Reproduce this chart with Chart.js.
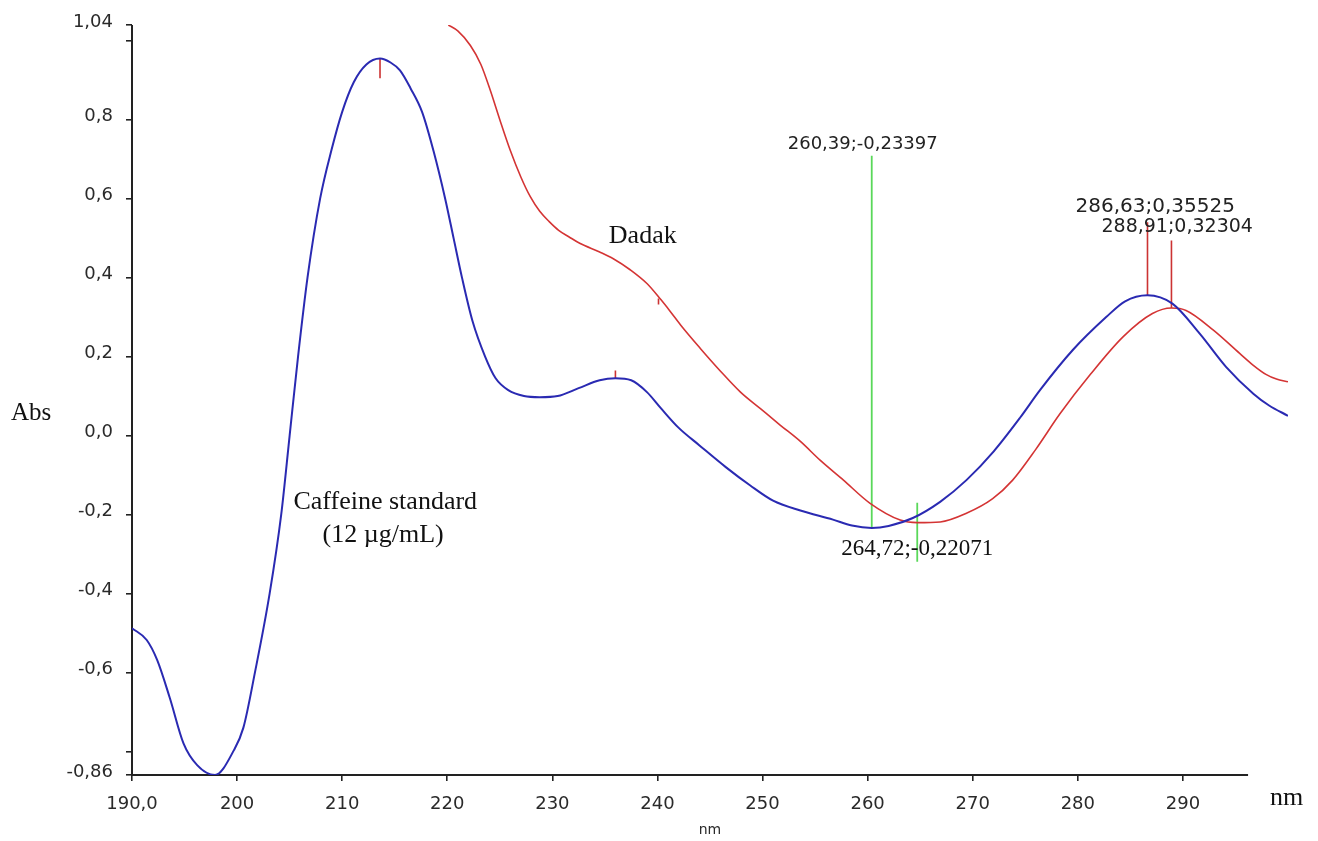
<!DOCTYPE html>
<html>
<head>
<meta charset="utf-8">
<title>UV spectrum - Caffeine standard / Dadak</title>
<script src="https://cdn.jsdelivr.net/npm/chart.js@4.4.0/dist/chart.umd.min.js"></script>
<style>
  html, body { margin: 0; padding: 0; background: #fff; }
  canvas { display: block; }
</style>
</head>
<body>
<canvas id="spectrum" width="1318" height="841"></canvas>
<script>
// Caffeine standard (12 ug/mL), wavelength in nm and absorbance
const caffeineNm = [190, 191.4, 192.4, 193.6, 194.9, 196.2, 197.9, 199.7, 200.6, 201.7, 203.1, 204.2, 205.0, 205.8, 206.7,
  207.9, 209.0, 210.0, 211.1, 212.3, 213.6, 214.6, 215.5, 216.5, 217.6, 218.7, 219.8, 220.6, 221.4, 222.4, 223.6, 224.6,
  225.8, 227.3, 228.8, 230.5, 232.5, 234.5, 236.0, 237.5, 239.0, 240.3, 242.0, 244.0, 246.5, 248.8, 251.0, 253.6, 256.7,
  258.5, 260.39, 262.0, 264.3, 266.9, 269.4, 272.0, 274.5, 276.4, 279.5, 282.7, 284.5, 286.63, 289.0, 291.6, 294.1, 296.7,
  298.2, 300];
const caffeineAbs = [-0.488, -0.518, -0.569, -0.665, -0.78, -0.835, -0.86, -0.797, -0.74, -0.6, -0.4, -0.2, 0.0, 0.2, 0.4,
  0.6, 0.725, 0.82, 0.895, 0.94, 0.955, 0.945, 0.925, 0.88, 0.82, 0.72, 0.6, 0.5, 0.4, 0.29, 0.2, 0.145,
  0.115, 0.1, 0.097, 0.10, 0.12, 0.14, 0.145, 0.14, 0.11, 0.07, 0.02, -0.025, -0.08, -0.126, -0.165, -0.19, -0.213,
  -0.228, -0.23397, -0.229, -0.209, -0.168, -0.113, -0.04, 0.045, 0.115, 0.216, 0.30, 0.34, 0.35525, 0.334, 0.258, 0.174, 0.106,
  0.076, 0.05];

// Dadak sample
const dadakNm = [220.1, 221.0, 222.2, 223.2, 224.1, 225.0, 226.0, 227.0, 227.9, 228.8, 229.7, 230.6, 231.6, 232.6, 234.5,
  235.8, 237.4, 239.0, 240.3, 241.2, 242.2, 244.1, 246.0, 247.9, 249.8, 251.7, 253.6, 255.5, 257.7, 260.2, 263.1, 264.72,
  266.9, 269.4, 271.9, 273.8, 276.0, 278.3, 281.2, 284.3, 287.1, 288.91, 290.3, 292.9, 295.4, 296.7, 297.9, 298.9, 300];
const dadakAbs = [1.04, 1.025, 0.988, 0.94, 0.874, 0.80, 0.722, 0.655, 0.605, 0.568, 0.542, 0.52, 0.503, 0.487, 0.465,
  0.448, 0.42, 0.385, 0.345, 0.315, 0.28, 0.22, 0.163, 0.11, 0.068, 0.026, -0.015, -0.063, -0.113, -0.171, -0.214, -0.22071,
  -0.219, -0.197, -0.16, -0.113, -0.035, 0.055, 0.155, 0.25, 0.309, 0.32304, 0.317, 0.267, 0.208, 0.178, 0.155, 0.143, 0.136];

const xTicks = [190, 200, 210, 220, 230, 240, 250, 260, 270, 280, 290];
const xTickLabels = ['190,0', '200', '210', '220', '230', '240', '250', '260', '270', '280', '290'];
const yTicks = [1.04, 1.0, 0.8, 0.6, 0.4, 0.2, 0.0, -0.2, -0.4, -0.6, -0.8, -0.86];
const yTickLabels = ['1,04', '', '0,8', '0,6', '0,4', '0,2', '0,0', '-0,2', '-0,4', '-0,6', '', '-0,86'];

// peak pick markers (red) and valley markers (green): wavelength, top, bottom
const peakMarkNm = [213.6, 236.0, 286.63, 288.91, 240.1];
const peakMarkTop = [0.955, 0.165, 0.54, 0.494, 0.347];
const peakMarkBottom = [0.905, 0.145, 0.35525, 0.32304, 0.332];
const valleyMarkNm = [260.39, 264.72];
const valleyMarkTop = [0.709, -0.17];
const valleyMarkBottom = [-0.23397, -0.32];

const toPoints = (xs, ys) => xs.map((x, i) => ({ x: x, y: ys[i] }));
const comma = (v, d) => v.toFixed(d).replace('.', ',');
const pickText = (nm, abs) => comma(nm, 2) + ';' + comma(abs, 5);

const datasets = [
  {
    label: 'Caffeine standard',
    data: toPoints(caffeineNm, caffeineAbs),
    borderColor: '#2a2ab2',
    borderWidth: 2,
    pointRadius: 0,
    cubicInterpolationMode: 'monotone'
  },
  {
    label: 'Dadak',
    data: toPoints(dadakNm, dadakAbs),
    borderColor: '#d43434',
    borderWidth: 1.6,
    pointRadius: 0,
    cubicInterpolationMode: 'monotone'
  }
];

peakMarkNm.forEach((nm, i) => {
  datasets.push({
    data: [{ x: nm, y: peakMarkTop[i] }, { x: nm, y: peakMarkBottom[i] }],
    borderColor: '#cc3333',
    borderWidth: 1.6,
    pointRadius: 0,
    tension: 0
  });
});
valleyMarkNm.forEach((nm, i) => {
  datasets.push({
    data: [{ x: nm, y: valleyMarkTop[i] }, { x: nm, y: valleyMarkBottom[i] }],
    borderColor: '#5ad85a',
    borderWidth: 1.8,
    pointRadius: 0,
    tension: 0
  });
});

// axis lines: the x line stops short of the data end
const axisLines = {
  id: 'axisLines',
  beforeDatasetsDraw(chart) {
    const { ctx, chartArea } = chart;
    const xs = chart.scales.x;
    ctx.save();
    ctx.strokeStyle = '#222';
    ctx.lineWidth = 2;
    ctx.beginPath();
    ctx.moveTo(chartArea.left, chartArea.top);
    ctx.lineTo(chartArea.left, chartArea.bottom);
    ctx.lineTo(xs.getPixelForValue(296.2), chartArea.bottom);
    ctx.stroke();
    ctx.restore();
  }
};

// curve names and peak pick readouts
const annotations = {
  id: 'annotations',
  afterDraw(chart) {
    const { ctx } = chart;
    const xs = chart.scales.x;
    const ys = chart.scales.y;
    ctx.save();
    ctx.textBaseline = 'middle';
    ctx.fillStyle = '#222';

    ctx.textAlign = 'left';
    ctx.font = '18px "DejaVu Sans"';
    ctx.fillText(pickText(valleyMarkNm[0], valleyMarkBottom[0]),
      xs.getPixelForValue(valleyMarkNm[0]) - 84, ys.getPixelForValue(valleyMarkTop[0]) - 11);

    ctx.font = '20px "DejaVu Sans"';
    ctx.fillText(pickText(peakMarkNm[2], peakMarkBottom[2]),
      xs.getPixelForValue(peakMarkNm[2]) - 72, ys.getPixelForValue(peakMarkTop[2]) - 16);
    ctx.font = '19px "DejaVu Sans"';
    ctx.fillText(pickText(peakMarkNm[3], peakMarkBottom[3]),
      xs.getPixelForValue(peakMarkNm[3]) - 70, ys.getPixelForValue(peakMarkTop[3]) - 13);

    ctx.fillStyle = '#111';
    ctx.textAlign = 'center';
    ctx.font = '23px "Liberation Serif"';
    ctx.fillText(pickText(valleyMarkNm[1], -0.22071),
      xs.getPixelForValue(valleyMarkNm[1]), ys.getPixelForValue(valleyMarkBottom[1]) - 13);

    ctx.font = '26px "Liberation Serif"';
    ctx.fillText('Dadak', xs.getPixelForValue(238.6), ys.getPixelForValue(0.505));
    ctx.fillText('Caffeine standard', xs.getPixelForValue(214.1), ys.getPixelForValue(-0.17));
    ctx.fillText('(12 \u00b5g/mL)', xs.getPixelForValue(213.9), ys.getPixelForValue(-0.253));

    ctx.textAlign = 'left';
    ctx.font = '25px "Liberation Serif"';
    ctx.fillText('Abs', 11, ys.getPixelForValue(0.055));
    ctx.font = '26px "Liberation Serif"';
    ctx.fillText('nm', 1270, chart.chartArea.bottom + 23);
    ctx.restore();
  }
};

new Chart(document.getElementById('spectrum').getContext('2d'), {
  type: 'line',
  data: { datasets: datasets },
  plugins: [axisLines, annotations],
  options: {
    responsive: false,
    animation: false,
    events: [],
    layout: { padding: { left: 0, right: 30, top: 25, bottom: 0 } },
    plugins: {
      legend: { display: false },
      tooltip: { enabled: false }
    },
    scales: {
      x: {
        type: 'linear',
        min: 190,
        max: 300,
        afterBuildTicks: (scale) => { scale.ticks = xTicks.map(v => ({ value: v })); },
        afterFit: (scale) => { scale.height = 66; },
        border: { display: false },
        grid: { drawOnChartArea: false, drawTicks: true, tickLength: 6, color: '#222', lineWidth: 1.6 },
        ticks: {
          autoSkip: false,
          maxRotation: 0,
          padding: 13,
          color: '#2a2a2a',
          font: { family: 'DejaVu Sans', size: 18 },
          callback: (value, index) => xTickLabels[index]
        },
        title: {
          display: true,
          text: 'nm',
          color: '#2a2a2a',
          font: { family: 'DejaVu Sans', size: 14 },
          padding: { top: 0, bottom: 2 }
        }
      },
      y: {
        type: 'linear',
        min: -0.86,
        max: 1.04,
        afterBuildTicks: (scale) => { scale.ticks = yTicks.map(v => ({ value: v })); },
        afterFit: (scale) => { scale.width = 132; },
        border: { display: false },
        grid: { drawOnChartArea: false, drawTicks: true, tickLength: 6, color: '#222', lineWidth: 1.6 },
        ticks: {
          autoSkip: false,
          padding: 13,
          labelOffset: -3,
          color: '#2a2a2a',
          font: { family: 'DejaVu Sans', size: 18 },
          callback: (value, index) => yTickLabels[index]
        }
      }
    }
  }
});
</script>
</body>
</html>
